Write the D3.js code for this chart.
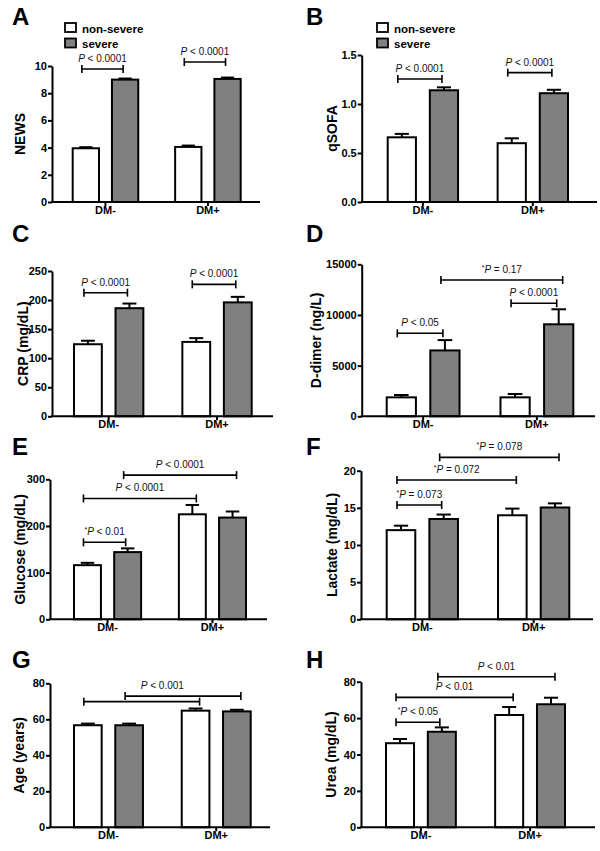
<!DOCTYPE html>
<html>
<head>
<meta charset="utf-8">
<script src="https://cdn.jsdelivr.net/npm/d3@7"></script>
<style>
  html, body { margin: 0; padding: 0; background: #fff; }
  svg { display: block; font-family: "Liberation Sans", Arial, Helvetica, sans-serif; }
</style>
</head>
<body>
<svg id="chart" width="600" height="851"></svg>
<script>
// ---------------- DATA ----------------
const categories = ["DM-", "DM+"];
const groups = ["non-severe", "severe"];

// A: NEWS
const newsNonSevere = [3.95, 4.05];
const newsNonSevereErr = [0.08, 0.1];
const newsSevere = [9.0, 9.05];
const newsSevereErr = [0.08, 0.1];
const newsTicks = [0, 2, 4, 6, 8, 10];

// B: qSOFA
const qsofaNonSevere = [0.66, 0.60];
const qsofaNonSevereErr = [0.035, 0.05];
const qsofaSevere = [1.14, 1.11];
const qsofaSevereErr = [0.03, 0.035];
const qsofaTicks = [0, 0.5, 1.0, 1.5];

// C: CRP
const crpNonSevere = [124, 128];
const crpNonSevereErr = [6, 6.5];
const crpSevere = [186, 196];
const crpSevereErr = [8, 9.5];
const crpTicks = [0, 50, 100, 150, 200, 250];

// D: D-dimer
const ddimerNonSevere = [1870, 1870];
const ddimerNonSevereErr = [230, 330];
const ddimerSevere = [6500, 9080];
const ddimerSevereErr = [1020, 1480];
const ddimerTicks = [0, 5000, 10000, 15000];

// E: Glucose
const glucoseNonSevere = [116, 225];
const glucoseNonSevereErr = [5, 20];
const glucoseSevere = [144, 218];
const glucoseSevereErr = [8, 13];
const glucoseTicks = [0, 100, 200, 300];

// F: Lactate
const lactateNonSevere = [12.0, 14.0];
const lactateNonSevereErr = [0.6, 0.9];
const lactateSevere = [13.5, 15.05];
const lactateSevereErr = [0.6, 0.55];
const lactateTicks = [0, 5, 10, 15, 20];

// G: Age
const ageNonSevere = [56.7, 64.8];
const ageNonSevereErr = [0.9, 1.2];
const ageSevere = [56.7, 64.4];
const ageSevereErr = [0.9, 0.9];
const ageTicks = [0, 20, 40, 60, 80];

// H: Urea
const ureaNonSevere = [46.2, 61.7];
const ureaNonSevereErr = [2.3, 4.4];
const ureaSevere = [52.5, 67.6];
const ureaSevereErr = [2.4, 3.6];
const ureaTicks = [0, 20, 40, 60, 80];

// Significance brackets: bar index 0 = DM- non-severe, 1 = DM- severe, 2 = DM+ non-severe, 3 = DM+ severe
const newsBrackets = [
  { from: 0, to: 1, at: 9.78, label: "P < 0.0001" },
  { from: 2, to: 3, at: 10.29, label: "P < 0.0001" }
];
const qsofaBrackets = [
  { from: 0, to: 1, at: 1.255, label: "P < 0.0001" },
  { from: 2, to: 3, at: 1.32, label: "P < 0.0001" }
];
const crpBrackets = [
  { from: 0, to: 1, at: 212.7, label: "P < 0.0001" },
  { from: 2, to: 3, at: 227, label: "P < 0.0001" }
];
const ddimerBrackets = [
  { from: 0, to: 1, at: 8190, label: "P < 0.05" },
  { from: 2, to: 3, at: 11150, label: "P < 0.0001" },
  { from: 1, to: 3, at: 13450, label: "*P = 0.17" }
];
const glucoseBrackets = [
  { from: 0, to: 1, at: 165, label: "*P < 0.01" },
  { from: 0, to: 2, at: 259, label: "P < 0.0001" },
  { from: 1, to: 3, at: 309, label: "P < 0.0001" }
];
const lactateBrackets = [
  { from: 0, to: 1, at: 15.38, label: "*P = 0.073" },
  { from: 0, to: 2, at: 18.75, label: "*P = 0.072" },
  { from: 1, to: 3, at: 21.8, label: "*P = 0.078" }
];
const ageBrackets = [
  { from: 0, to: 2, at: 69.8, label: "" },
  { from: 1, to: 3, at: 72.9, label: "P < 0.001", labelFrom: 0, labelTo: 3 }
];
const ureaBrackets = [
  { from: 0, to: 1, at: 57.7, label: "*P < 0.05" },
  { from: 0, to: 2, at: 71.4, label: "P < 0.01" },
  { from: 1, to: 3, at: 82.7, label: "P < 0.01" }
];

// ---------------- DRAWING ----------------
const svg = d3.select("#chart");
svg.append("rect").attr("width", 600).attr("height", 851).attr("fill", "#fff");

const GRAY = "#808080";
const FONT = '"Liberation Sans", Arial, Helvetica, sans-serif';

function drawPanel(cfg) {
  const g = svg.append("g");
  const yMax = cfg.ticks[cfg.ticks.length - 1];
  const y = d3.scaleLinear().domain([0, yMax]).range([cfg.y0, cfg.yTop]);
  const x = d3.scaleBand().domain(categories).range([cfg.barsLeft, cfg.barsRight])
    .paddingInner(0.36).paddingOuter(0);
  const xi = d3.scaleBand().domain(groups).range([0, x.bandwidth()])
    .paddingInner(0.33).paddingOuter(0);

  const bars = [];
  categories.forEach((c, i) => {
    bars.push({ cat: c, grp: groups[0], v: cfg.nonSevere[i], e: cfg.nonSevereErr[i] });
    bars.push({ cat: c, grp: groups[1], v: cfg.severe[i], e: cfg.severeErr[i] });
  });
  const cx = b => x(b.cat) + xi(b.grp) + xi.bandwidth() / 2;

  // error bars (drawn first so bar outline sits on top)
  const capW = xi.bandwidth() * 0.5;
  g.selectAll(".err").data(bars).enter().append("line")
    .attr("x1", cx).attr("x2", cx)
    .attr("y1", d => y(d.v)).attr("y2", d => y(d.v + d.e))
    .attr("stroke", "#000").attr("stroke-width", 2);
  g.selectAll(".cap").data(bars).enter().append("line")
    .attr("x1", d => cx(d) - capW / 2).attr("x2", d => cx(d) + capW / 2)
    .attr("y1", d => y(d.v + d.e)).attr("y2", d => y(d.v + d.e))
    .attr("stroke", "#000").attr("stroke-width", 2);

  // bars
  g.selectAll(".bar").data(bars).enter().append("rect")
    .attr("x", d => x(d.cat) + xi(d.grp))
    .attr("width", xi.bandwidth())
    .attr("y", d => y(d.v))
    .attr("height", d => y(0) - y(d.v))
    .attr("fill", d => d.grp === groups[0] ? "#fff" : GRAY)
    .attr("stroke", "#000").attr("stroke-width", 2);

  // y axis
  const yAxis = d3.axisLeft(y).tickValues(cfg.ticks).tickSize(4).tickSizeOuter(0).tickPadding(1)
    .tickFormat(cfg.fmt || d3.format("d"));
  const ya = g.append("g").attr("transform", `translate(${cfg.axisX},0)`).call(yAxis);
  ya.select(".domain").attr("stroke-width", 2);
  ya.selectAll(".tick line").attr("stroke-width", 2);
  ya.selectAll(".tick text").attr("font-family", FONT).attr("font-size", 11)
    .attr("font-weight", "bold").attr("fill", "#000");

  // x axis
  const xAxis = d3.axisBottom(x).tickSize(4).tickSizeOuter(0).tickPadding(0);
  const xa = g.append("g").attr("transform", `translate(0,${cfg.y0})`).call(xAxis);
  xa.select(".domain").remove();
  xa.selectAll(".tick line").attr("stroke-width", 2);
  xa.selectAll(".tick text").attr("font-family", FONT).attr("font-size", 11)
    .attr("font-weight", "bold").attr("fill", "#000");
  g.append("line").attr("x1", cfg.axisX - 1).attr("x2", cfg.axisEnd)
    .attr("y1", cfg.y0).attr("y2", cfg.y0).attr("stroke", "#000").attr("stroke-width", 2);

  // y title
  g.append("text")
    .attr("transform", `translate(${cfg.titleX},${(cfg.y0 + cfg.yTop) / 2}) rotate(-90)`)
    .attr("text-anchor", "middle")
    .attr("font-family", FONT).attr("font-size", 14).attr("font-weight", "bold")
    .text(cfg.title);

  // panel letter
  g.append("text").attr("x", cfg.letterX).attr("y", cfg.letterY)
    .attr("font-family", FONT).attr("font-size", 24).attr("font-weight", "bold")
    .text(cfg.letter);

  // brackets
  const barCenter = i => cx(bars[i]);
  cfg.brackets.forEach(b => {
    const x1 = barCenter(b.from) - 4;
    const x2 = barCenter(b.to) + (b.to - b.from > 1 ? 4 : -2);
    const by = y(b.at);
    const bg = g.append("g").attr("stroke", "#000").attr("stroke-width", 1.6);
    bg.append("line").attr("x1", x1).attr("x2", x2).attr("y1", by).attr("y2", by);
    bg.append("line").attr("x1", x1).attr("x2", x1).attr("y1", by - 4).attr("y2", by + 4);
    bg.append("line").attr("x1", x2).attr("x2", x2).attr("y1", by - 4).attr("y2", by + 4);
    if (b.label) {
      let lx1 = x1, lx2 = x2;
      if (b.labelFrom !== undefined) {
        lx1 = barCenter(b.labelFrom) - 4;
        lx2 = barCenter(b.labelTo) + 4;
      }
      const t = g.append("text").attr("x", (lx1 + lx2) / 2).attr("y", by - 7)
        .attr("text-anchor", "middle").attr("font-family", FONT).attr("font-size", 10)
        .attr("fill", "#111");
      let lab = b.label;
      if (lab.startsWith("*")) {
        t.append("tspan").attr("font-size", 7).attr("dy", -3).text("*");
        lab = lab.slice(1);
        t.append("tspan").attr("font-style", "italic").attr("dy", 3).text(lab[0]);
      } else {
        t.append("tspan").attr("font-style", "italic").text(lab[0]);
      }
      t.append("tspan").text(lab.slice(1));
    }
  });

  // legend
  if (cfg.legend) {
    const lg = g.append("g").attr("transform", `translate(${cfg.legend[0]},${cfg.legend[1]})`);
    groups.forEach((gr, i) => {
      lg.append("rect").attr("x", 0).attr("y", i * 15.5).attr("width", 11).attr("height", 9)
        .attr("fill", i === 0 ? "#fff" : GRAY).attr("stroke", "#000").attr("stroke-width", 1.8);
      lg.append("text").attr("x", 17).attr("y", i * 15.5 + 9.5)
        .attr("font-family", FONT).attr("font-size", 11.5).attr("font-weight", "bold")
        .text(gr);
    });
  }
}

const fmt1 = d3.format(".1f");

drawPanel({ letter: "A", letterX: 12, letterY: 25, title: "NEWS", titleX: 25,
  nonSevere: newsNonSevere, nonSevereErr: newsNonSevereErr, severe: newsSevere, severeErr: newsSevereErr,
  ticks: newsTicks, y0: 202, yTop: 66, axisX: 52, axisEnd: 260, barsLeft: 72.7, barsRight: 240.7,
  brackets: newsBrackets, legend: [65, 23] });

drawPanel({ letter: "B", letterX: 306, letterY: 25, title: "qSOFA", titleX: 337, fmt: fmt1,
  nonSevere: qsofaNonSevere, nonSevereErr: qsofaNonSevereErr, severe: qsofaSevere, severeErr: qsofaSevereErr,
  ticks: qsofaTicks, y0: 202, yTop: 55, axisX: 361.7, axisEnd: 597, barsLeft: 387.7, barsRight: 568,
  brackets: qsofaBrackets, legend: [377, 23] });

drawPanel({ letter: "C", letterX: 12, letterY: 242, title: "CRP (mg/dL)", titleX: 28,
  nonSevere: crpNonSevere, nonSevereErr: crpNonSevereErr, severe: crpSevere, severeErr: crpSevereErr,
  ticks: crpTicks, y0: 416.3, yTop: 271, axisX: 52, axisEnd: 273, barsLeft: 74, barsRight: 251.7,
  brackets: crpBrackets });

drawPanel({ letter: "D", letterX: 306, letterY: 242, title: "D-dimer (ng/L)", titleX: 321,
  nonSevere: ddimerNonSevere, nonSevereErr: ddimerNonSevereErr, severe: ddimerSevere, severeErr: ddimerSevereErr,
  ticks: ddimerTicks, y0: 416.3, yTop: 264.3, axisX: 361.7, axisEnd: 595, barsLeft: 386.7, barsRight: 573.3,
  brackets: ddimerBrackets });

drawPanel({ letter: "E", letterX: 12, letterY: 455, title: "Glucose (mg/dL)", titleX: 25,
  nonSevere: glucoseNonSevere, nonSevereErr: glucoseNonSevereErr, severe: glucoseSevere, severeErr: glucoseSevereErr,
  ticks: glucoseTicks, y0: 619.3, yTop: 479.3, axisX: 50, axisEnd: 267, barsLeft: 74, barsRight: 246,
  brackets: glucoseBrackets });

drawPanel({ letter: "F", letterX: 306, letterY: 455, title: "Lactate (mg/dL)", titleX: 337,
  nonSevere: lactateNonSevere, nonSevereErr: lactateNonSevereErr, severe: lactateSevere, severeErr: lactateSevereErr,
  ticks: lactateTicks, y0: 619.3, yTop: 470.7, axisX: 361, axisEnd: 593, barsLeft: 386.7, barsRight: 569.3,
  brackets: lactateBrackets });

drawPanel({ letter: "G", letterX: 12, letterY: 668, title: "Age (years)", titleX: 24,
  nonSevere: ageNonSevere, nonSevereErr: ageNonSevereErr, severe: ageSevere, severeErr: ageSevereErr,
  ticks: ageTicks, y0: 827.3, yTop: 683.3, axisX: 50, axisEnd: 270, barsLeft: 74, barsRight: 250.7,
  brackets: ageBrackets });

drawPanel({ letter: "H", letterX: 306, letterY: 668, title: "Urea (mg/dL)", titleX: 336,
  nonSevere: ureaNonSevere, nonSevereErr: ureaNonSevereErr, severe: ureaSevere, severeErr: ureaSevereErr,
  ticks: ureaTicks, y0: 827.3, yTop: 681.7, axisX: 361, axisEnd: 595, barsLeft: 386, barsRight: 565,
  brackets: ureaBrackets });
</script>
</body>
</html>
